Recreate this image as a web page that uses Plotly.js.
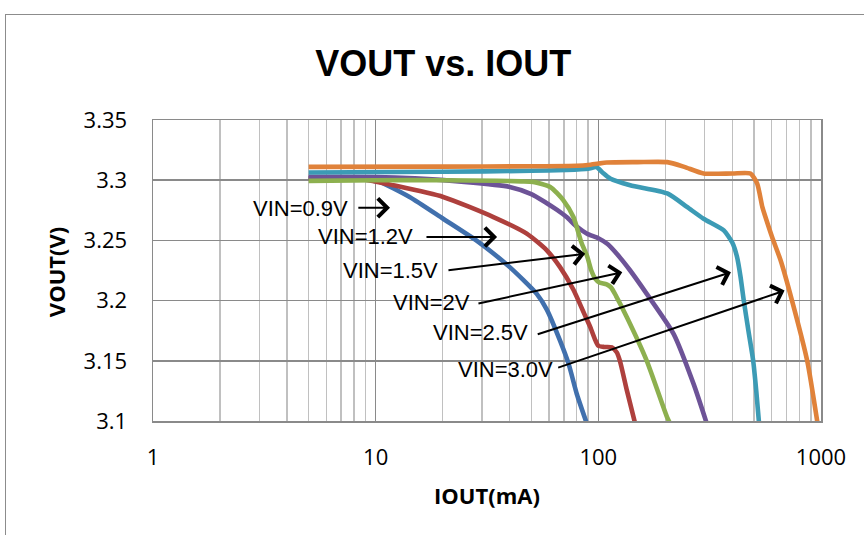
<!DOCTYPE html>
<html>
<head>
<meta charset="utf-8">
<script src="https://cdn.plot.ly/plotly-3.0.1.min.js"></script>
<style>
  html, body { margin: 0; padding: 0; background: #ffffff; }
  #frame { position: absolute; left: 5px; top: 14px; width: 900px; height: 600px;
           border-left: 1.5px solid #8c8c8c; border-top: 1.5px solid #8c8c8c; }
  #chart { position: absolute; left: 0; top: 0; width: 864px; height: 535px; }
</style>
</head>
<body>
<div id="frame"></div>
<div id="chart"></div>
<script>
// ---- data (IOUT in mA, VOUT in V) ----
const seriesNames = ['VIN=0.9V', 'VIN=1.2V', 'VIN=1.5V', 'VIN=2V', 'VIN=2.5V', 'VIN=3.0V'];

const iout09 = [5, 7, 9, 10.4, 14.2, 20.1, 28.3, 40, 52.9, 58.7, 67.3, 73.6, 80.1, 88.5];
const vout09 = [3.302, 3.3018, 3.3005, 3.2986, 3.2861, 3.268, 3.25, 3.2278, 3.2056, 3.1925, 3.1667, 3.1472, 3.1222, 3.0986];

const iout12 = [5, 7, 9, 12, 20.1, 33.8, 47.7, 58.7, 67.3, 77.3, 86, 92, 97, 100, 106, 115, 121, 125, 134.5, 146];
const vout12 = [3.3015, 3.3013, 3.3005, 3.2958, 3.2861, 3.2694, 3.2556, 3.2417, 3.2278, 3.209, 3.19, 3.178, 3.167, 3.1625, 3.1615, 3.1612, 3.157, 3.15, 3.125, 3.0986];

const iout15 = [5, 10, 20, 35, 45, 51, 60.8, 69.7, 77.3, 84, 89, 93, 97, 101, 109, 114, 120, 134.5, 165, 204, 210];
const vout15 = [3.2994, 3.3, 3.3, 3.2995, 3.299, 3.2986, 3.2944, 3.2833, 3.2694, 3.248, 3.237, 3.225, 3.218, 3.215, 3.2135, 3.211, 3.204, 3.186, 3.15, 3.1028, 3.098];

const iout20 = [5, 10, 15, 25, 40, 50, 58, 65, 72, 80, 89, 100, 110, 121, 139, 165, 218, 268, 305];
const vout20 = [3.3028, 3.3027, 3.3015, 3.2986, 3.2944, 3.2885, 3.2815, 3.2755, 3.2694, 3.2615, 3.2556, 3.2518, 3.247, 3.2389, 3.225, 3.2056, 3.1722, 3.1306, 3.0995];

const iout25 = [5, 20, 50, 72, 90, 98, 105, 113, 139, 204, 250, 297, 366, 400, 420, 435, 450, 472, 496, 512, 527];
const vout25 = [3.3064, 3.307, 3.3078, 3.3085, 3.3095, 3.311, 3.306, 3.3014, 3.2958, 3.289, 3.2778, 3.268, 3.2583, 3.248, 3.236, 3.22, 3.2, 3.175, 3.15, 3.125, 3.098];

const iout30 = [5, 20, 50, 80, 90, 100, 109, 150, 204, 243, 297, 400, 482, 517, 545, 563, 603, 659, 741, 867, 965];
const vout30 = [3.3111, 3.3113, 3.3116, 3.312, 3.3126, 3.3138, 3.3147, 3.315, 3.315, 3.3111, 3.3056, 3.3056, 3.3056, 3.2972, 3.2778, 3.2694, 3.2528, 3.2333, 3.2, 3.15, 3.098];

const xTickVals = [1, 10, 100, 1000];
const xTickText = ['1', '10', '100', '1000'];
const yTickVals = [3.1, 3.15, 3.2, 3.25, 3.3, 3.35];
const yTickText = ['3.1', '3.15', '3.2', '3.25', '3.3', '3.35'];

// ---- styling ----
const colors = ['#4170AD', '#AE403D', '#8DB04F', '#6D5397', '#3C9BB5', '#E0823A'];
const xs = [iout09, iout12, iout15, iout20, iout25, iout30];
const ys = [vout09, vout12, vout15, vout20, vout25, vout30];
const drawOrder = [0, 1, 3, 2, 4, 5];

const traces = drawOrder.map(i => ({
  type: 'scatter', mode: 'lines', name: seriesNames[i],
  x: xs[i], y: ys[i],
  line: { color: colors[i], width: 4.6, shape: 'spline', smoothing: 0.6 },
  hoverinfo: 'skip'
}));

// annotation label anchors (text right edge) and arrows (tail -> tip), in mA / V
const labelPos = [[7.66, 3.2767], [15.0, 3.2533], [19.45, 3.225], [27.1, 3.1986], [49.4, 3.1736], [64.0, 3.1431]];
const arrowTail = [[8.23, 3.2771], [16.65, 3.2528], [20.9, 3.225], [28.5, 3.1973], [52.6, 3.1717], [65.0, 3.1439]];
const arrowTip = [[11.6, 3.2771], [35.1, 3.2528], [87.3, 3.2389], [128.1, 3.2236], [394, 3.2236], [686, 3.2083]];

const annFont = { family: 'Liberation Sans, Arial, sans-serif', size: 22, color: '#000000' };
const annotations = [];
seriesNames.forEach((name, i) => {
  annotations.push({
    text: name, xref: 'x', yref: 'y',
    x: Math.log10(labelPos[i][0]), y: labelPos[i][1],
    xanchor: 'right', yanchor: 'middle', showarrow: false, font: annFont
  });
  annotations.push({
    text: '', xref: 'x', yref: 'y', axref: 'x', ayref: 'y',
    x: Math.log10(arrowTip[i][0]), y: arrowTip[i][1],
    ax: Math.log10(arrowTail[i][0]), ay: arrowTail[i][1],
    showarrow: true, arrowhead: 4, arrowsize: 1.8, arrowwidth: 2, arrowcolor: '#000000'
  });
});

const tickFont = { family: 'Open Sans, sans-serif', size: 22, color: '#000000' };
const axTitleFont = { family: 'Open Sans, sans-serif', size: 22, color: '#000000', weight: 'bold' };

// y-axis title drawn as a rotated annotation beside the tick labels
annotations.push({
  text: 'VOUT(V)', xref: 'paper', yref: 'paper', x: -0.145, y: 0.495,
  xanchor: 'center', yanchor: 'middle', textangle: -90, showarrow: false, font: axTitleFont
});

const layout = {
  width: 864, height: 535,
  margin: { l: 153, r: 43, t: 120, b: 114 },
  paper_bgcolor: 'rgba(0,0,0,0)', plot_bgcolor: '#ffffff',
  showlegend: false,
  title: {
    text: '<b>VOUT vs. IOUT</b>',
    font: { family: 'Liberation Sans, Arial, sans-serif', size: 36, color: '#000000' },
    xref: 'container', yref: 'container', x: 0.513, y: 0.882, xanchor: 'center', yanchor: 'middle'
  },
  xaxis: {
    type: 'log', range: [0, 3],
    tickmode: 'array', tickvals: xTickVals, ticktext: xTickText,
    ticks: '', tickfont: tickFont, ticklabelstandoff: 16,
    showgrid: true, gridcolor: '#8a8a8a', gridwidth: 1.5,
    minor: { dtick: 'D1', showgrid: true, gridcolor: '#c0c0c0', gridwidth: 1.4, ticks: '' },
    showline: true, mirror: true, linecolor: '#8a8a8a', linewidth: 1.5,
    zeroline: false,
    title: { text: 'IOUT(mA)', font: axTitleFont, standoff: 18 }
  },
  yaxis: {
    range: [3.1, 3.35],
    tickmode: 'array', tickvals: yTickVals, ticktext: yTickText,
    ticks: '', tickfont: tickFont, ticklabelstandoff: 20,
    showgrid: true, gridcolor: '#8a8a8a', gridwidth: 1.5,
    showline: true, mirror: true, linecolor: '#8a8a8a', linewidth: 1.5,
    zeroline: false
  },
  annotations: annotations
};

Plotly.newPlot('chart', traces, layout, { staticPlot: true, displayModeBar: false });
</script>
</body>
</html>
